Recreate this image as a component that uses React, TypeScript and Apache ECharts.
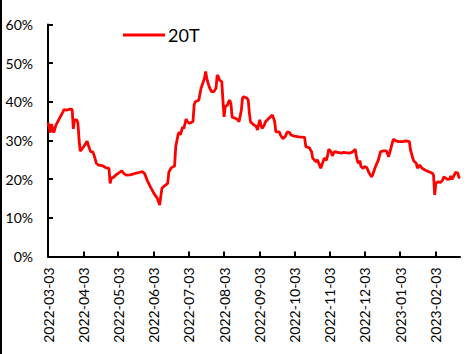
import React, { useEffect, useRef } from "react";
import * as echarts from "echarts";

const START_DATE = "2022-03-03";
const END_OFFSET = 358; // last day shown: 2023-02-24

// days after 2022-03-03
const dayOffsets = [
  0, 1, 2, 3, 5, 7, 10, 13, 14, 16, 19, 21, 22, 23, 25, 26, 27, 28, 29, 31,
  34, 35, 37, 39, 40, 42, 44, 47, 50, 52, 53, 54, 55, 57, 60, 64, 66, 68, 71, 74,
  76, 79, 82, 84, 86, 89, 92, 95, 97, 98, 99, 101, 104, 105, 107, 110, 111, 113, 114, 115,
  117, 118, 120, 121, 123, 126, 127, 128, 131, 133, 136, 137, 138, 140, 142, 144, 146, 147, 148, 149,
  151, 152, 153, 154, 156, 157, 158, 159, 160, 163, 165, 166, 168, 169, 170, 173, 174, 175, 176, 179,
  181, 182, 184, 185, 186, 188, 189, 192, 195, 197, 198, 201, 202, 204, 206, 208, 210, 211, 214, 218,
  223, 224, 227, 229, 230, 233, 234, 236, 237, 239, 240, 242, 243, 244, 246, 247, 249, 252, 255, 257,
  260, 262, 265, 267, 268, 269, 270, 271, 272, 274, 275, 277, 279, 281, 282, 284, 287, 289, 292, 294,
  296, 298, 300, 302, 305, 308, 311, 314, 315, 317, 318, 320, 321, 323, 325, 328, 331, 334, 335, 336,
  337, 339, 341, 343, 344, 347, 349, 350, 351, 353, 354, 356, 357, 358,
];

// 20T, percent
const values20T = [
  34.6, 33.5, 32.0, 34.2, 32.0, 34.0, 35.7, 37.4, 38.0, 37.8, 38.1, 38.0, 33.0, 35.3, 35.3, 34.5, 30.1, 27.2, 27.6, 28.4,
  29.8, 28.8, 27.1, 27.0, 26.2, 24.1, 23.6, 23.5, 23.0, 22.8, 22.8, 18.9, 20.2, 20.5, 21.3, 22.1, 21.4, 21.0, 21.1, 21.3,
  21.5, 21.7, 21.9, 21.4, 19.8, 18.0, 16.3, 15.0, 13.3, 15.5, 17.6, 18.2, 18.9, 21.8, 22.9, 23.4, 28.4, 31.4, 32.2, 31.4,
  33.5, 33.0, 35.5, 34.9, 34.4, 34.9, 39.2, 40.0, 40.4, 43.5, 46.1, 47.8, 46.0, 43.9, 42.6, 42.6, 43.5, 46.9, 46.5, 45.6,
  45.2, 40.4, 36.1, 38.7, 39.2, 40.0, 40.4, 39.4, 36.0, 35.7, 35.3, 34.8, 37.8, 40.9, 41.3, 40.9, 40.4, 37.0, 34.8, 34.0,
  33.6, 32.7, 35.3, 34.0, 33.1, 34.0, 34.8, 35.7, 36.6, 34.8, 32.2, 32.2, 31.4, 30.5, 30.9, 32.2, 32.0, 31.4, 31.1, 30.9,
  30.8, 28.4, 28.1, 27.1, 25.4, 24.5, 25.0, 23.6, 22.8, 24.5, 25.4, 24.9, 26.2, 27.7, 27.1, 26.0, 27.1, 26.9, 26.7, 26.9,
  26.8, 26.7, 27.1, 27.7, 25.8, 24.5, 24.1, 24.8, 23.2, 22.8, 23.2, 23.0, 21.6, 20.6, 21.0, 22.8, 24.9, 27.1, 27.3, 27.3,
  25.8, 28.0, 30.3, 29.9, 29.7, 29.7, 29.9, 29.7, 27.5, 25.4, 24.6, 24.1, 22.8, 23.6, 22.8, 22.3, 21.9, 21.5, 21.0, 15.9,
  18.9, 19.3, 19.1, 19.8, 20.6, 19.9, 20.0, 20.8, 19.9, 21.0, 21.7, 21.6, 20.5, 20.2,
];

const tickLabels = [
  "2022-03-03", "2022-04-03", "2022-05-03", "2022-06-03", "2022-07-03", "2022-08-03",
  "2022-09-03", "2022-10-03", "2022-11-03", "2022-12-03", "2023-01-03", "2023-02-03",
];

const SERIES_NAME = "20T";
const FONT = "Lato, 'Noto Sans', sans-serif";

const DAY_MS = 86400000;
const toTs = (s: string) => Date.parse(s + "T00:00:00Z");
const startTs = toTs(START_DATE);
const toOffset = (s: string) => Math.round((toTs(s) - startTs) / DAY_MS);
const offsetToDate = (d: number) => new Date(startTs + d * DAY_MS).toISOString().slice(0, 10);

export default function App() {
  const ref = useRef<HTMLDivElement>(null);

  useEffect(() => {
    if (!ref.current) return;
    const chart = echarts.init(ref.current, null, { renderer: "svg" });
    const data = dayOffsets.map((d, i) => [d, values20T[i]]);
    const tickOffsets = tickLabels.map(toOffset);

    chart.setOption({
      animation: false,
      backgroundColor: "#ffffff",
      grid: { left: 48, right: 13, top: 24.4, bottom: 97.6 },
      legend: {
        data: [SERIES_NAME],
        left: 123,
        top: 26,
        padding: 0,
        icon: "rect",
        itemWidth: 42,
        itemHeight: 3,
        itemStyle: { color: "#ff0000" },
        textStyle: { fontFamily: FONT, fontSize: 18, color: "#000", padding: [0, 0, 0, -2] },
      },
      xAxis: {
        type: "value",
        min: 0,
        max: END_OFFSET,
        axisLine: { show: true, onZero: false, lineStyle: { color: "#000", width: 2 } },
        axisTick: {
          show: true,
          inside: true,
          length: 5,
          lineStyle: { color: "#000", width: 2 },
          customValues: tickOffsets,
        },
        axisLabel: {
          rotate: 90,
          margin: 11,
          fontFamily: FONT,
          fontSize: 14,
          color: "#000",
          customValues: tickOffsets,
          formatter: (v: number) => offsetToDate(v),
        },
        splitLine: { show: false },
      },
      yAxis: {
        type: "value",
        min: 0,
        max: 60,
        interval: 10,
        axisLine: { show: true, lineStyle: { color: "#000", width: 2 } },
        axisTick: { show: true, inside: true, length: 5, lineStyle: { color: "#000", width: 2 } },
        axisLabel: {
          margin: 15,
          fontFamily: FONT,
          fontSize: 14,
          color: "#000",
          formatter: "{value}%",
        },
        splitLine: { show: false },
      },
      series: [
        {
          name: SERIES_NAME,
          type: "line",
          data,
          showSymbol: false,
          symbol: "none",
          lineStyle: { color: "#ff0000", width: 2.8 },
          itemStyle: { color: "#ff0000" },
        },
      ],
      graphic: [
        {
          type: "rect",
          shape: { x: 0, y: 0, width: 2, height: 354 },
          style: { fill: "#000" },
          silent: true,
        },
      ],
    });

    return () => chart.dispose();
  }, []);

  return (
    <div
      ref={ref}
      style={{ position: "absolute", left: 0, top: 0, width: 473, height: 354 }}
    />
  );
}
